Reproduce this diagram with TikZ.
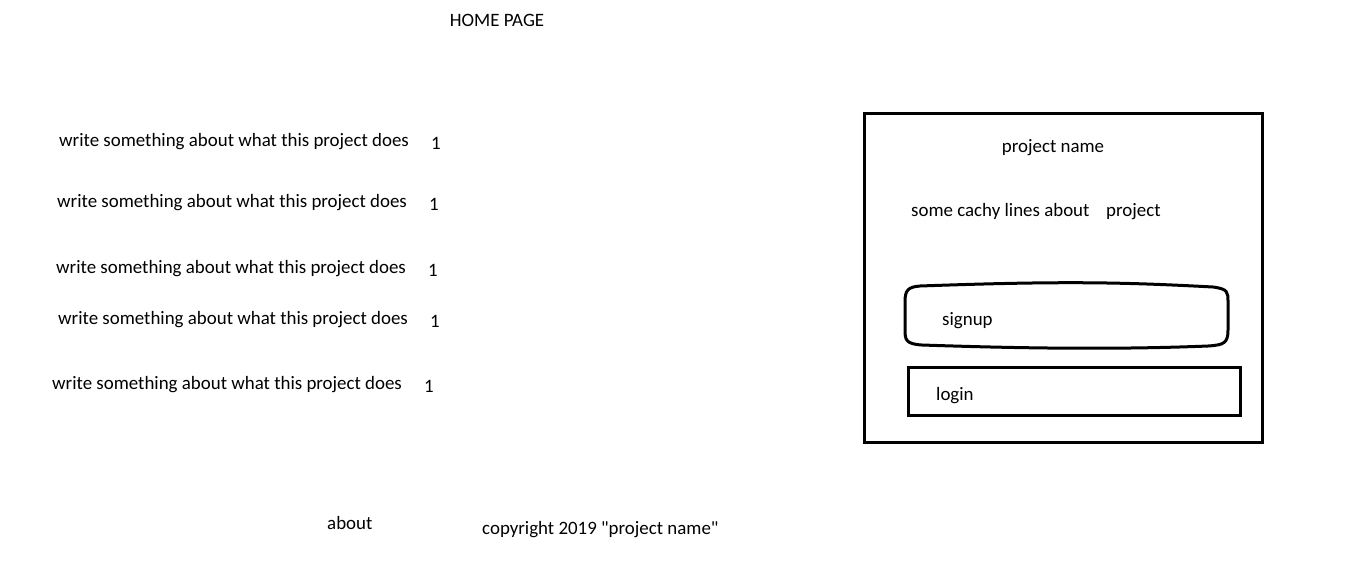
\documentclass[tikz,border=0pt]{standalone}
\usepackage{fontspec}
\setmainfont{Carlito}
\tikzset{
  txt/.style={anchor=west, inner sep=0, text height=13pt, text depth=4pt,
    yshift=-2pt, font=\fontsize{18.9}{22}\selectfont},
  frame/.style={black, line width=3pt}
}
\begin{document}
\begin{tikzpicture}[x=1pt, y=-1pt]
\useasboundingbox (0,0) rectangle (1360,560);
\node[txt, anchor=center] (title) at (497,20) {HOME PAGE};
% feature lines on the left
\foreach \x/\y/\n in {59/140/a, 57/201/b, 56/267/c, 58/318/d, 52/383/e}{
  \node[txt] (line\n) at (\x,\y) {write something about what this project does};
  \node[txt] (num\n) at (\x+372,\y+3) {1};
}
% right panel
\draw[frame] (864,113) rectangle (1262,442);
\node[txt, anchor=center] (pname) at (1053,146) {project name};
\node[txt] (catchy) at (911,210) {some cachy lines about};
\node[txt] (catchyb) at (1106,210) {project};
\draw[frame] (920,286) .. controls (1060,281) and (1120,282) .. (1213,287)
  .. controls (1228,289) and (1228,292) .. (1228,302) -- (1228,330)
  .. controls (1228,343) and (1224,345) .. (1208,346)
  .. controls (1110,350) and (1010,348) .. (922,345)
  .. controls (906,344) and (905,340) .. (905,330) -- (905,302)
  .. controls (905,290) and (908,287) .. (920,286) -- cycle;
\node[txt] (signup) at (942,319) {signup};
\draw[frame] (908,367) rectangle (1240,415);
\node[txt] (login) at (936,394) {login};
% footer
\node[txt] (about) at (327,523) {about};
\node[txt] (copy) at (482,528) {copyright 2019 \textquotedbl project name\textquotedbl};
\end{tikzpicture}
\end{document}
